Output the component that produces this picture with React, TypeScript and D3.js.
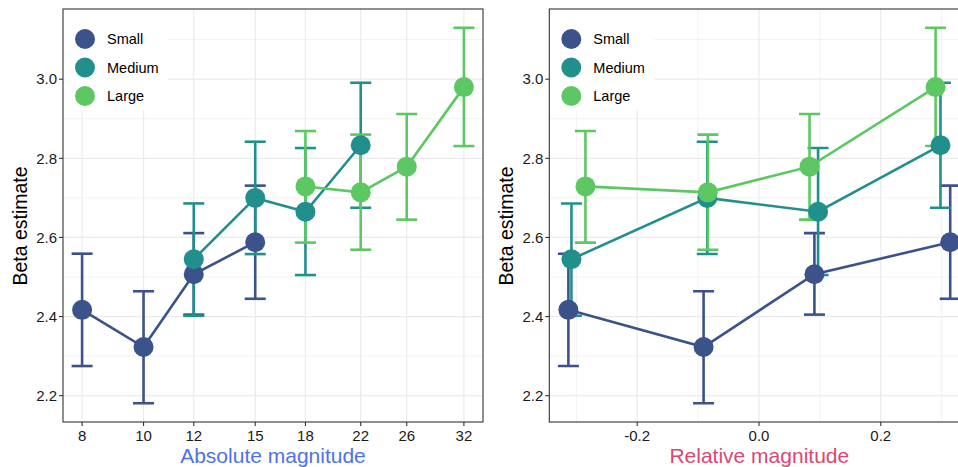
import React, { useRef, useEffect } from "react";
import * as d3 from "d3";

// groups + colours (viridis-like)
const groupNames = ["Small", "Medium", "Large"];
const groupColors = ["#3B528B", "#21908C", "#5DC863"];

// absolute magnitude per group
const smallAbs = [8, 10, 12, 15];
const mediumAbs = [12, 15, 18, 22];
const largeAbs = [18, 22, 26, 32];

// relative magnitude per group
const smallRel = [-0.313, -0.091, 0.091, 0.314];
const mediumRel = [-0.308, -0.085, 0.097, 0.298];
const largeRel = [-0.285, -0.084, 0.083, 0.29];

// beta estimates with error bounds
const smallBeta = [2.417, 2.323, 2.507, 2.588];
const smallLo = [2.275, 2.181, 2.405, 2.445];
const smallHi = [2.559, 2.464, 2.611, 2.731];
const mediumBeta = [2.545, 2.7, 2.665, 2.833];
const mediumLo = [2.402, 2.558, 2.505, 2.675];
const mediumHi = [2.686, 2.842, 2.826, 2.991];
const largeBeta = [2.729, 2.714, 2.779, 2.98];
const largeLo = [2.587, 2.569, 2.645, 2.831];
const largeHi = [2.869, 2.86, 2.912, 3.13];

// tick labels
const absTicks = [8, 10, 12, 15, 18, 22, 26, 32];
const relTicks = [-0.2, 0, 0.2];
const relMinor = [-0.3, -0.1, 0.1, 0.3];
const yTicks = [2.2, 2.4, 2.6, 2.8, 3.0];
const yMinor = [2.3, 2.5, 2.7, 2.9, 3.1];

const W = 958;
const H = 467;
const FONT = "'Liberation Sans', Arial, sans-serif";

// plain hyphen, like R does
const fmt1 = (v: number) => v.toFixed(1);

export default function App() {
  const svgRef = useRef<SVGSVGElement>(null);

  useEffect(() => {
    const svg = d3.select(svgRef.current);
    svg.selectAll("*").remove();

    const series = [
      { abs: smallAbs, rel: smallRel, beta: smallBeta, lo: smallLo, hi: smallHi },
      { abs: mediumAbs, rel: mediumRel, beta: mediumBeta, lo: mediumLo, hi: mediumHi },
      { abs: largeAbs, rel: largeRel, beta: largeBeta, lo: largeLo, hi: largeHi },
    ].map((s, gi) =>
      s.abs.map((a, i) => ({
        g: gi,
        abs: a,
        rel: s.rel[i],
        beta: s.beta[i],
        lo: s.lo[i],
        hi: s.hi[i],
      }))
    );
    const all = series.flat();

    // ggplot-style 5% expansion
    const expand = (lo: number, hi: number) => {
      const r = hi - lo;
      return [lo - r * 0.05, hi + r * 0.05];
    };

    const top = 9;
    const bottom = 422;
    const panelW = 420;

    const yDom = expand(d3.min(all, (d) => d.lo)!, d3.max(all, (d) => d.hi)!);
    const y = d3.scaleLinear().domain(yDom).range([bottom, top]);

    const absExt = d3.extent(all, (d) => Math.log(d.abs)) as [number, number];
    const absDom = expand(absExt[0], absExt[1]).map(Math.exp);
    const relExt = d3.extent(all, (d) => d.rel) as [number, number];
    const relDom = expand(relExt[0], relExt[1]);

    const panels = [
      {
        left: 63,
        x: d3.scaleLog().domain(absDom).range([63, 63 + panelW]),
        key: "abs" as const,
        ticks: absTicks,
        minor: [] as number[],
        fmt: (v: number) => String(v),
        title: "Absolute magnitude",
        titleColor: "#4E72E6",
      },
      {
        left: 549.3,
        x: d3.scaleLinear().domain(relDom).range([549.3, 549.3 + panelW]),
        key: "rel" as const,
        ticks: relTicks,
        minor: relMinor,
        fmt: fmt1,
        title: "Relative magnitude",
        titleColor: "#DB4772",
      },
    ];

    panels.forEach((p, pi) => {
      const g = svg.append("g");
      const x = p.x as any;
      const right = p.left + panelW;

      const clipId = `clip${pi}`;
      svg
        .append("defs")
        .append("clipPath")
        .attr("id", clipId)
        .append("rect")
        .attr("x", p.left)
        .attr("y", top)
        .attr("width", panelW)
        .attr("height", bottom - top);

      // gridlines
      const grid = g.append("g");
      yMinor.forEach((v) =>
        grid.append("line").attr("x1", p.left).attr("x2", right)
          .attr("y1", y(v)).attr("y2", y(v))
          .attr("stroke", "#F2F2F2").attr("stroke-width", 1)
      );
      p.minor.forEach((v) =>
        grid.append("line").attr("x1", x(v)).attr("x2", x(v))
          .attr("y1", top).attr("y2", bottom)
          .attr("stroke", "#F2F2F2").attr("stroke-width", 1)
      );
      yTicks.forEach((v) =>
        grid.append("line").attr("x1", p.left).attr("x2", right)
          .attr("y1", y(v)).attr("y2", y(v))
          .attr("stroke", "#EBEBEB").attr("stroke-width", 1.2)
      );
      p.ticks.forEach((v) =>
        grid.append("line").attr("x1", x(v)).attr("x2", x(v))
          .attr("y1", top).attr("y2", bottom)
          .attr("stroke", "#EBEBEB").attr("stroke-width", 1.2)
      );

      // legend background (inside panel, top-left)
      g.append("rect")
        .attr("x", p.left + 1)
        .attr("y", top + 1)
        .attr("width", 104)
        .attr("height", 100)
        .attr("fill", "#fff");

      const data = g.append("g").attr("clip-path", `url(#${clipId})`);

      // error bars
      series.forEach((s) => {
        const col = groupColors[s[0].g];
        s.forEach((d) => {
          const cx = x(d[p.key]);
          const eg = data.append("g").attr("stroke", col).attr("stroke-width", 2.6).attr("fill", "none");
          eg.append("line").attr("x1", cx).attr("x2", cx).attr("y1", y(d.lo)).attr("y2", y(d.hi));
          eg.append("line").attr("x1", cx - 10.5).attr("x2", cx + 10.5).attr("y1", y(d.lo)).attr("y2", y(d.lo));
          eg.append("line").attr("x1", cx - 10.5).attr("x2", cx + 10.5).attr("y1", y(d.hi)).attr("y2", y(d.hi));
        });
      });

      // lines
      const line = d3
        .line<any>()
        .x((d) => x(d[p.key]))
        .y((d) => y(d.beta));
      series.forEach((s) => {
        data.append("path")
          .attr("d", line(s))
          .attr("fill", "none")
          .attr("stroke", groupColors[s[0].g])
          .attr("stroke-width", 2.6);
      });

      // points
      series.forEach((s) => {
        s.forEach((d) => {
          data.append("circle")
            .attr("cx", x(d[p.key]))
            .attr("cy", y(d.beta))
            .attr("r", 10)
            .attr("fill", groupColors[d.g]);
        });
      });

      // legend
      groupNames.forEach((name, i) => {
        const ly = 39 + i * 28.5;
        g.append("circle")
          .attr("cx", p.left + 22)
          .attr("cy", ly)
          .attr("r", 10)
          .attr("fill", groupColors[i]);
        g.append("text")
          .attr("x", p.left + 44)
          .attr("y", ly)
          .attr("dy", "0.35em")
          .attr("font-family", FONT)
          .attr("font-size", 14.5)
          .attr("fill", "#000")
          .text(name);
      });

      // panel border
      g.append("rect")
        .attr("x", p.left)
        .attr("y", top)
        .attr("width", panelW)
        .attr("height", bottom - top)
        .attr("fill", "none")
        .attr("stroke", "#333")
        .attr("stroke-width", 1.1);

      // y axis
      yTicks.forEach((v) => {
        g.append("line").attr("x1", p.left - 4).attr("x2", p.left)
          .attr("y1", y(v)).attr("y2", y(v))
          .attr("stroke", "#333").attr("stroke-width", 1.1);
        g.append("text")
          .attr("x", p.left - 6)
          .attr("y", y(v))
          .attr("dy", "0.35em")
          .attr("text-anchor", "end")
          .attr("font-family", FONT)
          .attr("font-size", 15)
          .attr("fill", "#1a1a1a")
          .text(fmt1(v));
      });

      // x axis
      p.ticks.forEach((v) => {
        g.append("line").attr("x1", x(v)).attr("x2", x(v))
          .attr("y1", bottom).attr("y2", bottom + 4)
          .attr("stroke", "#333").attr("stroke-width", 1.1);
        g.append("text")
          .attr("x", x(v))
          .attr("y", bottom + 19)
          .attr("text-anchor", "middle")
          .attr("font-family", FONT)
          .attr("font-size", 15)
          .attr("fill", "#1a1a1a")
          .text(p.fmt(v));
      });

      // titles
      g.append("text")
        .attr("x", p.left + panelW / 2)
        .attr("y", 463)
        .attr("text-anchor", "middle")
        .attr("font-family", FONT)
        .attr("font-size", 21)
        .attr("fill", p.titleColor)
        .text(p.title);
      g.append("text")
        .attr("transform", `translate(${p.left - 36},226) rotate(-90)`)
        .attr("text-anchor", "middle")
        .attr("font-family", FONT)
        .attr("font-size", 19.5)
        .attr("fill", "#000")
        .text("Beta estimate");
    });

    return () => {
      svg.selectAll("*").remove();
    };
  }, []);

  return (
    <svg
      ref={svgRef}
      width={W}
      height={H}
      style={{ position: "absolute", left: 0, top: 0, display: "block", background: "#fff" }}
    />
  );
}
